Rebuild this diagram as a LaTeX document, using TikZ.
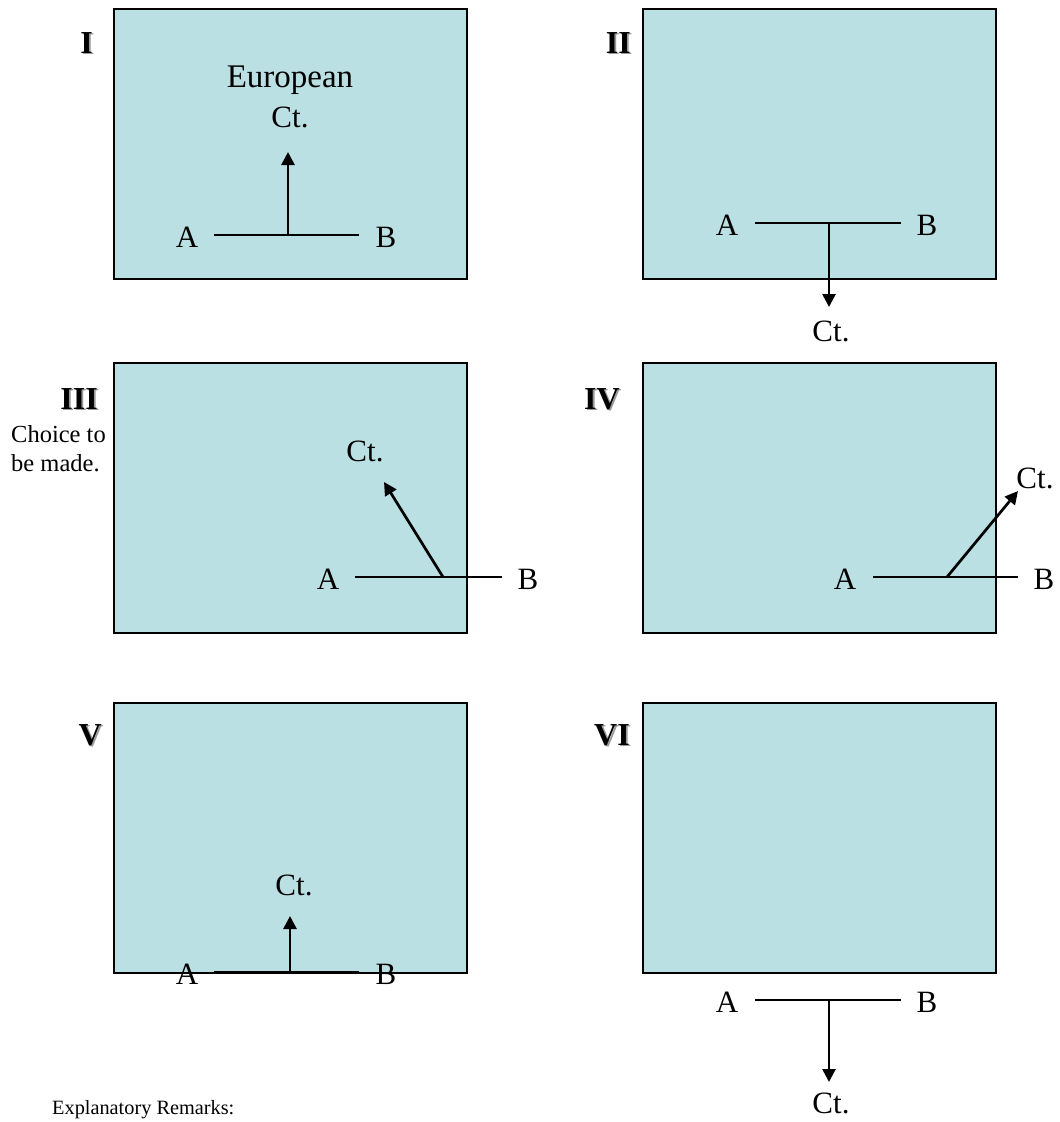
\documentclass[tikz,border=0pt]{standalone}
\usepackage{fontspec}
\setmainfont{Liberation Serif}
\usetikzlibrary{arrows.meta}
\definecolor{panelfill}{RGB}{187,224,227}
\begin{document}
\begin{tikzpicture}[x=1pt,y=-1pt,
  panel/.style={draw=black, line width=1.9pt, fill=panelfill, rectangle, inner sep=0pt,
                minimum width=353pt, minimum height=270pt, anchor=north west},
  lbl/.style={font=\fontsize{31}{36}\selectfont, inner sep=0pt, anchor=base},
  big/.style={font=\fontsize{33}{38}\selectfont, inner sep=0pt, anchor=base},
  num/.style={font=\fontsize{32}{36}\selectfont\bfseries, inner sep=0pt, anchor=base east},
  numshadow/.style={num, text=black!40},
  bar/.style={line width=1.6pt},
  ctarrow/.style={line width=2.7pt, -{Triangle[length=13pt,width=13pt]}},
  note/.style={font=\fontsize{24.5}{29}\selectfont, inner sep=0pt, anchor=base west},
  remark/.style={font=\fontsize{20.3}{24}\selectfont, inner sep=0pt, anchor=base west}
]
\path[use as bounding box] (0,0) rectangle (1060,1122);

% ---------- panels ----------
\node[panel] (p1) at (113,8) {};
\node[panel] (p2) at (642,8) {};
\node[panel] (p3) at (113,362) {};
\node[panel] (p4) at (642,362) {};
\node[panel] (p5) at (113,702) {};
\node[panel] (p6) at (642,702) {};

% ---------- roman numerals (with shadow) ----------
\node[numshadow] (n1s) at (94.8,54.8) {I};
\node[num] (n1) at (93,53) {I};
\node[numshadow] (n2s) at (632.8,54.8) {II};
\node[num] (n2) at (631,53) {II};
\node[numshadow] (n3s) at (99.8,410.8) {III};
\node[num] (n3) at (98,409) {III};
\node[numshadow] (n4s) at (621.8,410.8) {IV};
\node[num] (n4) at (620,409) {IV};
\node[numshadow] (n5s) at (103.8,746.8) {V};
\node[num] (n5) at (102,745) {V};
\node[numshadow] (n6s) at (631.8,746.8) {VI};
\node[num] (n6) at (630,745) {VI};

% ---------- panel I ----------
\node[big] (eu1) at (290,87) {European};
\node[lbl] (ct1) at (290,127) {Ct.};
\node[lbl] (a1) at (187,247) {A};
\node[lbl] (b1) at (386,247) {B};
\coordinate (l1a) at (214,235);
\coordinate (l1b) at (359,235);
\coordinate (j1) at (288,235);
\coordinate (t1) at (288,152);
\draw[bar] (l1a) -- (l1b);
\draw[ctarrow] (j1) -- (t1);

% ---------- panel II ----------
\node[lbl] (a2) at (727,235) {A};
\node[lbl] (b2) at (927,235) {B};
\node[lbl] (ct2) at (831,341) {Ct.};
\coordinate (l2a) at (755,223);
\coordinate (l2b) at (901,223);
\coordinate (j2) at (829,223);
\coordinate (t2) at (829,307);
\draw[bar] (l2a) -- (l2b);
\draw[ctarrow] (j2) -- (t2);

% ---------- panel III ----------
\node[note] (ch1) at (11,442) {Choice to};
\node[note] (ch2) at (11,471) {be made.};
\node[lbl] (ct3) at (365,461) {Ct.};
\node[lbl] (a3) at (328,589) {A};
\node[lbl] (b3) at (528,589) {B};
\coordinate (l3a) at (355,577);
\coordinate (l3b) at (502,577);
\coordinate (j3) at (443,577);
\coordinate (t3) at (384,482);
\draw[bar] (l3a) -- (l3b);
\draw[ctarrow] (j3) -- (t3);

% ---------- panel IV ----------
\node[lbl] (ct4) at (1035,488) {Ct.};
\node[lbl] (a4) at (845,589) {A};
\node[lbl] (b4) at (1044,589) {B};
\coordinate (l4a) at (873,577);
\coordinate (l4b) at (1018,577);
\coordinate (j4) at (947,577);
\coordinate (t4) at (1018,491);
\draw[bar] (l4a) -- (l4b);
\draw[ctarrow] (j4) -- (t4);

% ---------- panel V ----------
\node[lbl] (ct5) at (294,895) {Ct.};
\node[lbl] (a5) at (187,984) {A};
\node[lbl] (b5) at (386,984) {B};
\coordinate (l5a) at (214,972);
\coordinate (l5b) at (359,972);
\coordinate (j5) at (290,972);
\coordinate (t5) at (290,916);
\draw[bar] (l5a) -- (l5b);
\draw[ctarrow] (j5) -- (t5);

% ---------- panel VI ----------
\node[lbl] (a6) at (727,1012) {A};
\node[lbl] (b6) at (927,1012) {B};
\node[lbl] (ct6) at (831,1113) {Ct.};
\coordinate (l6a) at (755,1000);
\coordinate (l6b) at (901,1000);
\coordinate (j6) at (829,1000);
\coordinate (t6) at (829,1082);
\draw[bar] (l6a) -- (l6b);
\draw[ctarrow] (j6) -- (t6);

% ---------- remark ----------
\node[remark] (rem) at (52,1114) {Explanatory Remarks:};
\end{tikzpicture}
\end{document}
